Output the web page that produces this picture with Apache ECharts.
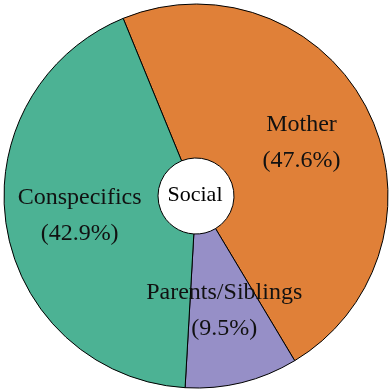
<!DOCTYPE html>
<html>
<head>
<meta charset="utf-8">
<script src="https://cdn.jsdelivr.net/npm/echarts@6/dist/echarts.min.js"></script>
<style>
  html, body { margin: 0; padding: 0; background: #fff; }
  #main { width: 390px; height: 390px; }
</style>
</head>
<body>
<div id="main"></div>
<script>
// slices, clockwise from the top-left boundary
const categories = ['Mother', 'Parents/Siblings', 'Conspecifics'];
const shares = [47.6, 9.5, 42.9];
const sliceColors = ['#E08038', '#968FC7', '#4CB294'];
const centerText = 'Social';

const chart = echarts.init(document.getElementById('main'));

const option = {
    animation: false,
    title: {
        text: centerText,
        left: 'center',
        top: 'middle',
        textStyle: {
            fontFamily: 'Liberation Serif',
            fontWeight: 'normal',
            fontSize: 22,
            color: '#000'
        }
    },
    series: [{
        type: 'pie',
        center: [196, 196],
        radius: [38, 192],
        startAngle: 112.3,
        clockwise: true,
        silent: true,
        emphasis: { disabled: true },
        itemStyle: {
            borderColor: '#000',
            borderWidth: 1
        },
        label: {
            show: true,
            position: 'inside',
            formatter: function (p) {
                return p.name + '\n(' + p.value + '%)';
            },
            fontFamily: 'Liberation Serif',
            fontSize: 24,
            lineHeight: 36,
            color: '#111'
        },
        labelLine: { show: false },
        data: categories.map(function (name, i) {
            return {
                name: name,
                value: shares[i],
                itemStyle: { color: sliceColors[i] }
            };
        })
    }]
};
chart.setOption(option);
</script>
</body>
</html>
